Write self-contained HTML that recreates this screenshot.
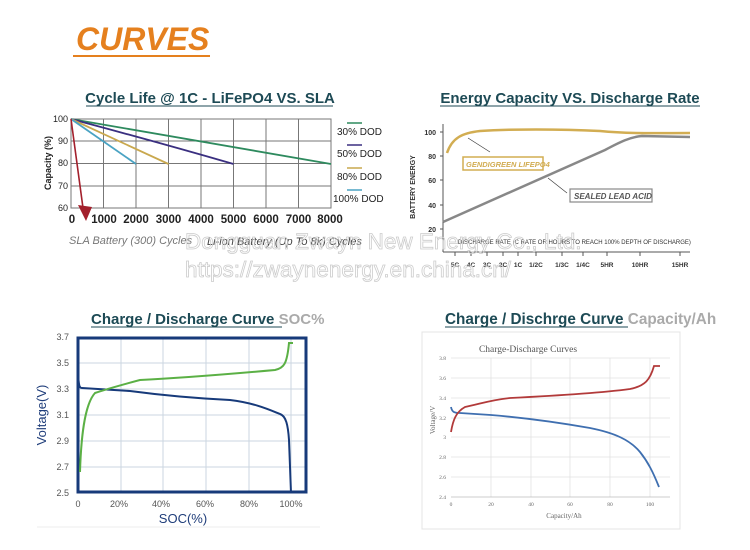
<!DOCTYPE html>
<html><head><meta charset="utf-8"><style>
html,body{margin:0;padding:0;background:#fff;}
svg{display:block;font-family:"Liberation Sans",sans-serif;}
</style></head><body>
<svg width="750" height="550" viewBox="0 0 750 550" xmlns="http://www.w3.org/2000/svg">
<rect width="750" height="550" fill="#fff"/>
<!-- header -->
<text x="76" y="50" font-size="32" font-weight="bold" font-style="italic" fill="#e5801e">CURVES</text>
<line x1="73" y1="56" x2="210" y2="56" stroke="#e5801e" stroke-width="2"/>

<!-- Chart 1 -->
<text x="210" y="103" font-size="15" font-weight="bold" fill="#1d4a55" text-anchor="middle">Cycle Life @ 1C - LiFePO4 VS. SLA</text>
<line x1="86" y1="106" x2="333" y2="106" stroke="#1d4a55" stroke-width="1"/>
<g stroke="#777" stroke-width="1">
<rect x="71" y="119" width="260" height="89" fill="none"/>
<line x1="103.5" y1="119" x2="103.5" y2="208"/><line x1="136" y1="119" x2="136" y2="208"/>
<line x1="168.5" y1="119" x2="168.5" y2="208"/><line x1="201" y1="119" x2="201" y2="208"/>
<line x1="233.5" y1="119" x2="233.5" y2="208"/><line x1="266" y1="119" x2="266" y2="208"/>
<line x1="298.5" y1="119" x2="298.5" y2="208"/>
<line x1="71" y1="141" x2="331" y2="141"/><line x1="71" y1="163.5" x2="331" y2="163.5"/><line x1="71" y1="186" x2="331" y2="186"/>
</g>
<g font-size="9" fill="#222" text-anchor="end">
<text x="68" y="122">100</text><text x="68" y="144">90</text><text x="68" y="166">80</text><text x="68" y="189">70</text><text x="68" y="211">60</text>
</g>
<text transform="translate(51,163) rotate(-90)" font-size="9" font-weight="bold" fill="#222" text-anchor="middle">Capacity (%)</text>
<g font-size="11.5" font-weight="bold" fill="#222" text-anchor="middle">
<text x="72" y="223">0</text><text x="104" y="223">1000</text><text x="136" y="223">2000</text><text x="168.5" y="223">3000</text><text x="201" y="223">4000</text><text x="233.5" y="223">5000</text><text x="266" y="223">6000</text><text x="298.5" y="223">7000</text><text x="330" y="223">8000</text>
</g>
<path d="M71,119 L331,164" stroke="#2e8a5e" stroke-width="1.8" fill="none"/>
<path d="M71,119 Q150,140 233.5,164" stroke="#3a2f80" stroke-width="1.8" fill="none"/>
<path d="M71,119 L168.5,164" stroke="#c9a84e" stroke-width="1.8" fill="none"/>
<path d="M71,119 L136,164" stroke="#4aa3c3" stroke-width="1.8" fill="none"/>
<line x1="71" y1="119" x2="83" y2="208" stroke="#a3202c" stroke-width="1.6"/>
<polygon points="78,205 92,207 86,221" fill="#a3202c"/>
<g font-size="10" fill="#222">
<line x1="347" y1="123" x2="362" y2="123" stroke="#2e8a5e" stroke-width="1.5"/><text x="337" y="135">30% DOD</text>
<line x1="347" y1="145" x2="362" y2="145" stroke="#3a2f80" stroke-width="1.5"/><text x="337" y="157">50% DOD</text>
<line x1="347" y1="168" x2="362" y2="168" stroke="#c9a84e" stroke-width="1.5"/><text x="337" y="180">80% DOD</text>
<line x1="347" y1="190" x2="362" y2="190" stroke="#4aa3c3" stroke-width="1.5"/><text x="333" y="202">100% DOD</text>
</g>
<text x="69" y="244" font-size="11" font-style="italic" fill="#777">SLA Battery (300) Cycles</text>
<text x="207" y="245" font-size="11" font-style="italic" fill="#444">Li-ion Battery (Up To 8k) Cycles</text>

<!-- Chart 2 -->
<text x="570" y="103" font-size="15" font-weight="bold" fill="#1d4a55" text-anchor="middle">Energy Capacity VS. Discharge Rate</text>
<line x1="440" y1="106" x2="700" y2="106" stroke="#1d4a55" stroke-width="1"/>
<line x1="443" y1="124" x2="443" y2="252" stroke="#555" stroke-width="1"/>
<line x1="443" y1="252" x2="690" y2="252" stroke="#555" stroke-width="1"/>
<g stroke="#555" stroke-width="1">
<line x1="440" y1="132" x2="443" y2="132"/><line x1="440" y1="156" x2="443" y2="156"/><line x1="440" y1="180" x2="443" y2="180"/><line x1="440" y1="205" x2="443" y2="205"/><line x1="440" y1="229" x2="443" y2="229"/>
<line x1="455" y1="252" x2="455" y2="256"/><line x1="471" y1="252" x2="471" y2="256"/><line x1="487" y1="252" x2="487" y2="256"/><line x1="503" y1="252" x2="503" y2="256"/><line x1="518" y1="252" x2="518" y2="256"/><line x1="536" y1="252" x2="536" y2="256"/><line x1="562" y1="252" x2="562" y2="256"/><line x1="583" y1="252" x2="583" y2="256"/><line x1="607" y1="252" x2="607" y2="256"/><line x1="640" y1="252" x2="640" y2="256"/><line x1="680" y1="252" x2="680" y2="256"/>
</g>
<g font-size="7" font-weight="bold" fill="#333" text-anchor="end">
<text x="436" y="135">100</text><text x="436" y="159">80</text><text x="436" y="183">60</text><text x="436" y="208">40</text><text x="436" y="232">20</text>
</g>
<text transform="translate(415,187) rotate(-90)" font-size="7" font-weight="bold" fill="#333" text-anchor="middle">BATTERY ENERGY</text>
<g font-size="6.5" font-weight="bold" fill="#333" text-anchor="middle">
<text x="455" y="267">5C</text><text x="471" y="267">4C</text><text x="487" y="267">3C</text><text x="503" y="267">2C</text><text x="518" y="267">1C</text><text x="536" y="267">1/2C</text><text x="562" y="267">1/3C</text><text x="583" y="267">1/4C</text><text x="607" y="267">5HR</text><text x="640" y="267">10HR</text><text x="680" y="267">15HR</text>
</g>
<text x="458" y="244" font-size="6" fill="#333">DISCHARGE RATE (C RATE OR HOURS TO REACH 100% DEPTH OF DISCHARGE)</text>
<path d="M447,153 C452,138 462,133 480,131 C510,129 560,129 600,131 C630,134 660,133 690,133" stroke="#d2ad52" stroke-width="2.5" fill="none"/>
<path d="M443,222 L605,150 C620,142 630,137 642,136 L690,137" stroke="#888" stroke-width="2.5" fill="none"/>
<line x1="468" y1="138" x2="490" y2="152" stroke="#333" stroke-width="0.6"/>
<line x1="548" y1="178" x2="567" y2="193" stroke="#333" stroke-width="0.6"/>
<rect x="463" y="157" width="80" height="13" fill="#fff" stroke="#d2ad52" stroke-width="1.5"/>
<text x="466" y="167" font-size="7.5" font-weight="bold" font-style="italic" fill="#d2ad52">GENDIGREEN LIFEPO4</text>
<rect x="570" y="189" width="82" height="13" fill="#fff" stroke="#888" stroke-width="1.2"/>
<text x="574" y="199" font-size="8" font-weight="bold" font-style="italic" fill="#555">SEALED LEAD ACID</text>

<!-- watermark -->
<text x="185" y="249" font-size="22.5" fill="none" stroke="#ccc" stroke-width="0.8">Dongguan Zwayn New Energy Co., Ltd.</text>
<text x="185" y="277" font-size="22.5" fill="none" stroke="#ccc" stroke-width="0.8">https://zwaynenergy.en.china.cn/</text>

<!-- Chart 3 -->
<text x="91" y="324" font-size="15" font-weight="bold" fill="#1d4a55">Charge / Discharge Curve <tspan fill="#aaa">SOC%</tspan></text>
<line x1="91" y1="327" x2="282" y2="327" stroke="#1d4a55" stroke-width="1"/>
<g stroke="#cbd6e0" stroke-width="1">
<line x1="121" y1="337" x2="121" y2="493"/><line x1="163" y1="337" x2="163" y2="493"/><line x1="206" y1="337" x2="206" y2="493"/><line x1="249" y1="337" x2="249" y2="493"/><line x1="291" y1="337" x2="291" y2="493"/>
<line x1="77" y1="363" x2="307" y2="363"/><line x1="77" y1="389" x2="307" y2="389"/><line x1="77" y1="415" x2="307" y2="415"/><line x1="77" y1="441" x2="307" y2="441"/><line x1="77" y1="467" x2="307" y2="467"/>
</g>
<rect x="78" y="338" width="228" height="154" fill="none" stroke="#173a7a" stroke-width="3"/>
<g font-size="9" fill="#555" text-anchor="end">
<text x="69" y="340">3.7</text><text x="69" y="366">3.5</text><text x="69" y="392">3.3</text><text x="69" y="418">3.1</text><text x="69" y="444">2.9</text><text x="69" y="470">2.7</text><text x="69" y="496">2.5</text>
</g>
<g font-size="9" fill="#555" text-anchor="middle">
<text x="78" y="507">0</text><text x="119" y="507">20%</text><text x="161" y="507">40%</text><text x="205" y="507">60%</text><text x="249" y="507">80%</text><text x="291" y="507">100%</text>
</g>
<text transform="translate(46,415) rotate(-90)" font-size="13" fill="#1f3d7a" text-anchor="middle">Voltage(V)</text>
<text x="183" y="523" font-size="13" fill="#1f3d7a" text-anchor="middle">SOC(%)</text>
<path d="M78,375 C79,385 79,388 82,388 L130,391 C160,395 190,398 230,400 C255,403 270,410 280,414 C286,416 288,425 289,440 L291,493" stroke="#173a7a" stroke-width="2" fill="none"/>
<path d="M80,472 C81,440 84,405 95,393 C110,388 125,384 140,380 C180,378 230,374 275,370 C284,368 287,364 289,343 L293,343" stroke="#5bb045" stroke-width="2" fill="none"/>
<line x1="37" y1="527" x2="320" y2="527" stroke="#eee" stroke-width="1"/>

<!-- Chart 4 -->
<text x="445" y="324" font-size="15.3" font-weight="bold" fill="#1d4a55">Charge / Dischrge Curve <tspan fill="#aaa">Capacity/Ah</tspan></text>
<line x1="445" y1="327" x2="628" y2="327" stroke="#1d4a55" stroke-width="1"/>
<rect x="422" y="332" width="258" height="197" fill="#fff" stroke="#e4e4e4" stroke-width="1"/>
<text x="528" y="352" font-size="9.5" font-family="Liberation Serif, serif" fill="#555" text-anchor="middle">Charge-Discharge  Curves</text>
<g stroke="#e2e2e2" stroke-width="0.8">
<line x1="451" y1="358" x2="670" y2="358"/><line x1="451" y1="378" x2="670" y2="378"/><line x1="451" y1="398" x2="670" y2="398"/><line x1="451" y1="418" x2="670" y2="418"/><line x1="451" y1="437" x2="670" y2="437"/><line x1="451" y1="457" x2="670" y2="457"/><line x1="451" y1="477" x2="670" y2="477"/>
<line x1="491" y1="358" x2="491" y2="497"/><line x1="531" y1="358" x2="531" y2="497"/><line x1="570" y1="358" x2="570" y2="497"/><line x1="610" y1="358" x2="610" y2="497"/><line x1="650" y1="358" x2="650" y2="497"/>
</g>
<line x1="451" y1="497" x2="670" y2="497" stroke="#bbb" stroke-width="0.8"/>
<g font-size="5.5" font-family="Liberation Serif, serif" fill="#666" text-anchor="end">
<text x="446" y="360">3.8</text><text x="446" y="380">3.6</text><text x="446" y="400">3.4</text><text x="446" y="420">3.2</text><text x="446" y="439">3</text><text x="446" y="459">2.8</text><text x="446" y="479">2.6</text><text x="446" y="499">2.4</text>
</g>
<g font-size="5.5" font-family="Liberation Serif, serif" fill="#666" text-anchor="middle">
<text x="451" y="506">0</text><text x="491" y="506">20</text><text x="531" y="506">40</text><text x="570" y="506">60</text><text x="610" y="506">80</text><text x="650" y="506">100</text>
</g>
<text transform="translate(435,420) rotate(-90)" font-size="7" font-family="Liberation Serif, serif" fill="#666" text-anchor="middle">Voltage/V</text>
<text x="564" y="518" font-size="7" font-family="Liberation Serif, serif" fill="#666" text-anchor="middle">Capacity/Ah</text>
<path d="M451,407 C452,412 454,413 460,413 L491,415 C515,417 550,421 590,428 C615,433 630,440 640,452 C648,462 653,472 659,487" stroke="#3f6fb0" stroke-width="1.8" fill="none"/>
<path d="M451,432 C453,420 456,412 465,407 C480,404 490,400 510,398 C550,396 600,393 630,389 C645,386 650,380 654,366 L660,366" stroke="#b23a3a" stroke-width="1.8" fill="none"/>
</svg>
</body></html>
